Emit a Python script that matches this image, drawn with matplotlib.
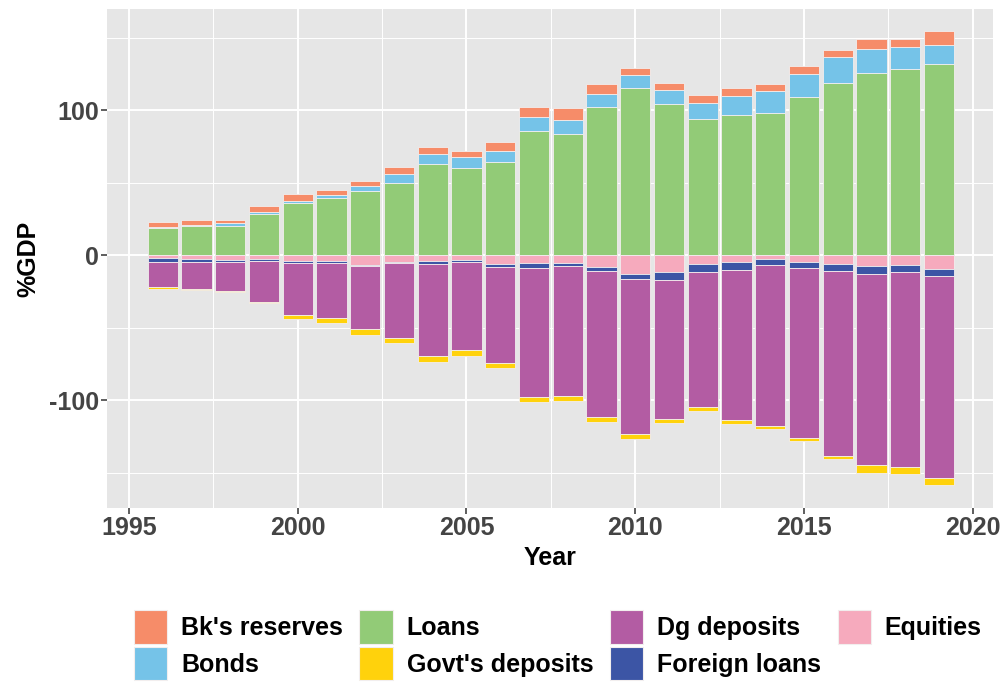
import numpy as np
import matplotlib
matplotlib.use('Agg')
from matplotlib import pyplot as plt
from matplotlib.patches import Patch, Rectangle
from matplotlib.legend_handler import HandlerPatch

plt.rcParams['axes.unicode_minus'] = False

years = np.arange(1996, 2020)

# assets (positive)
loans = [18.9, 20.0, 20.2, 28.3, 36.1, 39.3, 44.6, 50.1, 63.2, 60.0, 64.4, 86.0,
         83.7, 102.5, 115.2, 104.3, 94.0, 97.0, 98.6, 109.4, 119.1, 126.2, 128.5, 132.2]
bonds = [0.9, 1.1, 1.9, 2.0, 1.8, 2.3, 3.5, 5.8, 6.5, 7.6, 7.5, 9.2,
         9.6, 8.8, 9.1, 9.7, 11.3, 13.1, 15.0, 15.6, 17.5, 16.3, 15.2, 13.1]
reserves = [3.4, 3.3, 2.7, 3.9, 4.6, 3.7, 3.6, 5.3, 4.8, 4.8, 6.7, 7.3,
            8.5, 6.9, 4.9, 5.3, 5.7, 5.3, 4.8, 5.8, 5.2, 6.7, 5.5, 9.2]

# liabilities (negative)
equities = [1.6, 2.1, 2.8, 2.5, 4.1, 4.1, 6.4, 4.4, 3.9, 3.2, 6.0, 5.5,
            5.3, 7.8, 12.9, 11.3, 6.2, 4.4, 2.3, 4.6, 5.7, 7.1, 6.7, 9.0]
foreign_loans = [2.8, 2.3, 1.6, 1.2, 0.9, 0.9, 0.7, 0.9, 1.8, 1.2, 1.8, 3.0,
                 2.1, 3.0, 3.2, 5.3, 5.1, 5.7, 4.6, 3.7, 4.9, 5.8, 5.0, 5.0]
dg_deposits = [17.2, 18.8, 20.2, 28.2, 35.9, 38.4, 43.9, 51.5, 63.3, 60.9, 66.5, 89.0,
               89.2, 100.7, 107.3, 96.0, 93.5, 103.5, 110.8, 117.9, 127.5, 131.5, 134.0, 139.3]
govt_deposits = [1.4, 0.9, 0.9, 1.0, 3.2, 3.3, 4.0, 3.9, 4.8, 3.7, 3.2, 3.6,
                 3.9, 3.7, 3.3, 3.3, 2.6, 2.7, 2.3, 1.9, 2.6, 5.3, 5.1, 4.8]

colors = {
    "Bk's reserves": '#F68C69',
    'Bonds': '#75C3E8',
    'Loans': '#92CB77',
    "Govt's deposits": '#FFD20C',
    'Dg deposits': '#B35CA3',
    'Foreign loans': '#3C55A5',
    'Equities': '#F6AABD',
}

fig = plt.figure(figsize=(10.03, 6.82), dpi=100)
ax = fig.add_axes([0.1067, 0.2551, 0.8833, 0.7317])
ax.set_facecolor('#E6E6E6')

w = 0.9
edge = dict(edgecolor='#F2EEEE', linewidth=0.6)

pos_bottom = np.zeros(len(years))
for name, vals in [('Loans', loans), ('Bonds', bonds), ("Bk's reserves", reserves)]:
    v = np.array(vals)
    ax.bar(years, v, w, bottom=pos_bottom, color=colors[name], zorder=3, **edge)
    pos_bottom += v

neg_bottom = np.zeros(len(years))
for name, vals in [('Equities', equities), ('Foreign loans', foreign_loans),
                   ('Dg deposits', dg_deposits), ("Govt's deposits", govt_deposits)]:
    v = -np.array(vals)
    ax.bar(years, v, w, bottom=neg_bottom, color=colors[name], zorder=3, **edge)
    neg_bottom += v

ax.set_xlim(1994.35, 2020.6)
ax.set_ylim(-174.2, 170)
ax.set_xticks([1995, 2000, 2005, 2010, 2015, 2020])
ax.set_xticks([1997.5, 2002.5, 2007.5, 2012.5, 2017.5], minor=True)
ax.set_yticks([-100, 0, 100])
ax.set_yticks([-150, -50, 50, 150], minor=True)
ax.grid(which='major', color='white', linewidth=1.4, zorder=0)
ax.grid(which='minor', color='white', linewidth=0.7, zorder=0)
ax.set_axisbelow(True)
for s in ax.spines.values():
    s.set_visible(False)

ax.tick_params(which='major', length=4, width=1.1, color='#333333',
               labelsize=18, labelcolor='#444444', pad=2)
ax.tick_params(which='minor', length=0)
for lab in ax.get_xticklabels() + ax.get_yticklabels():
    lab.set_fontweight('bold')
    lab.set_family('Liberation Sans')

ax.set_xlabel('Year', fontsize=18, fontweight='bold', family='Liberation Sans', labelpad=4)
ax.set_ylabel('%GDP', fontsize=18, fontweight='bold', family='Liberation Sans', labelpad=6)


# square legend keys (ggplot style), 34 px wide
def square_key(legend, orig_handle, xdescent, ydescent, width, height, fontsize):
    s = 24.0
    xc = -xdescent + width / 2
    yc = -ydescent + height / 2
    return Rectangle((xc - s / 2, yc - s / 2), s, s)


order = ["Bk's reserves", 'Bonds', 'Loans', "Govt's deposits",
         'Dg deposits', 'Foreign loans', 'Equities']
handles = [Patch(facecolor=colors[n], edgecolor='#F2EEEE', linewidth=0.8, label=n) for n in order]
fig.legend(handles=handles, loc='center', bbox_to_anchor=(0.556, 0.054), ncol=4,
           frameon=False, prop={'family': 'Liberation Sans', 'weight': 'bold', 'size': 18},
           handlelength=1.35, handleheight=1.3, handletextpad=0.55,
           columnspacing=0.65, labelspacing=0.36, borderpad=0.2,
           handler_map={Patch: HandlerPatch(patch_func=square_key)})

fig.savefig('out.png', dpi=100)
